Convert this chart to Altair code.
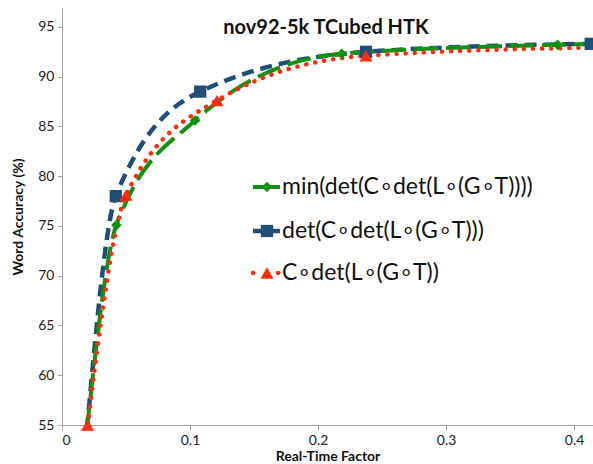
import altair as alt
import pandas as pd

title_text = "nov92-5k TCubed HTK"
series = ["min(det(C∘det(L∘(G∘T))))", "det(C∘det(L∘(G∘T)))", "C∘det(L∘(G∘T))"]

green_x = [0.0195, 0.0425, 0.104, 0.2185, 0.387, 0.45]
green_y = [54.6, 75.1, 85.6, 92.3, 93.2, 93.4]
blue_x = [0.0195, 0.042, 0.108, 0.2375, 0.413]
blue_y = [54.6, 78.0, 88.5, 92.5, 93.3]
red_x = [0.020, 0.050, 0.121, 0.2375, 0.45]
red_y = [55.0, 78.1, 87.6, 92.1, 93.0]

x_ticks = [0, 0.1, 0.2, 0.3, 0.4]
y_ticks = [55, 60, 65, 70, 75, 80, 85, 90, 95]

X_MAX = 0.4148
Y_MIN, Y_MAX = 55, 96.9

FONT = "Lato"
xs = alt.Scale(domain=[0, X_MAX], nice=False, zero=False)
ys = alt.Scale(domain=[Y_MIN, Y_MAX], nice=False, zero=False)

styles = [
    dict(name=series[0], xs=green_x, ys=green_y, color="#119211", dash=[24, 8], width=4, cap="butt", shape="diamond", size=110),
    dict(name=series[1], xs=blue_x, ys=blue_y, color="#1f4e79", dash=[12, 7], width=4.5, cap="butt", shape="square", size=150),
    dict(name=series[2], xs=red_x, ys=red_y, color="#ff2b0a", dash=[0.1, 9], width=4.5, cap="round", shape="triangle-up", size=170),
]

x_axis = alt.Axis(values=x_ticks, grid=False, title="Real-Time Factor", format="~g",
                  domainColor="#a6a6a6", tickColor="#a6a6a6", tickSize=5,
                  labelFont=FONT, labelFontSize=14, labelColor="#222222", labelPadding=3,
                  titleFont=FONT, titleFontSize=14, titleFontWeight="bold", titleColor="#111111",
                  titlePadding=2)
y_axis = alt.Axis(values=y_ticks, grid=False, title="Word Accuracy (%)",
                  domainColor="#a6a6a6", tickColor="#a6a6a6", tickSize=5,
                  labelFont=FONT, labelFontSize=14, labelColor="#222222", labelPadding=3,
                  titleFont=FONT, titleFontSize=14, titleFontWeight="bold", titleColor="#111111",
                  titlePadding=12)

X = alt.X("x:Q", scale=xs, axis=x_axis)
Y = alt.Y("y:Q", scale=ys, axis=y_axis)

draw_order = [1, 0, 2]
layers = []
for i in draw_order:
    s = styles[i]
    df = pd.DataFrame({"x": s["xs"], "y": s["ys"]})
    layers.append(
        alt.Chart(df).mark_line(interpolate="monotone", clip=True, color=s["color"],
                                strokeDash=s["dash"], strokeWidth=s["width"], strokeCap=s["cap"])
        .encode(x=X, y=Y)
    )
for i in draw_order:
    s = styles[i]
    df = pd.DataFrame({"x": s["xs"], "y": s["ys"]})
    layers.append(
        alt.Chart(df).transform_filter((alt.datum.x <= X_MAX) & (alt.datum.y >= Y_MIN))
        .mark_point(shape=s["shape"], size=s["size"], filled=True, opacity=1, color=s["color"])
        .encode(x=X, y=Y)
    )

# legend (inside plot)
leg_y = [179, 223, 265]
for i, s in enumerate(styles):
    row = pd.DataFrame({"label": [s["name"]]})
    base = alt.Chart(row)
    layers.append(base.mark_rule(color=s["color"], strokeWidth=s["width"], strokeCap=s["cap"],
                                 strokeDash=[0.1, 25] if s["cap"] == "round" else [1, 0])
                  .encode(x=alt.value(191), x2=alt.value(218), y=alt.value(leg_y[i])))
    layers.append(base.mark_point(shape=s["shape"], size=s["size"], filled=True, opacity=1, color=s["color"])
                  .encode(x=alt.value(205), y=alt.value(leg_y[i])))
    layers.append(base.mark_text(align="left", baseline="middle", font=FONT, fontSize=23, color="#111111")
                  .encode(x=alt.value(220), y=alt.value(leg_y[i]), text="label:N"))

layers.append(
    alt.Chart(pd.DataFrame({"t": [title_text]}))
    .mark_text(align="center", baseline="middle", font=FONT, fontSize=20, fontWeight="bold", color="#111111")
    .encode(x=alt.value(264), y=alt.value(20), text="t:N")
)

chart = alt.layer(*layers).properties(
    width=531, height=417,
    autosize=alt.AutoSizeParams(type="none"),
    padding={"left": 62, "top": 8, "right": 0, "bottom": 39},
    background="white",
).configure_view(stroke=None)

chart.save("out.html", embed_options={"renderer": "svg", "actions": False})
